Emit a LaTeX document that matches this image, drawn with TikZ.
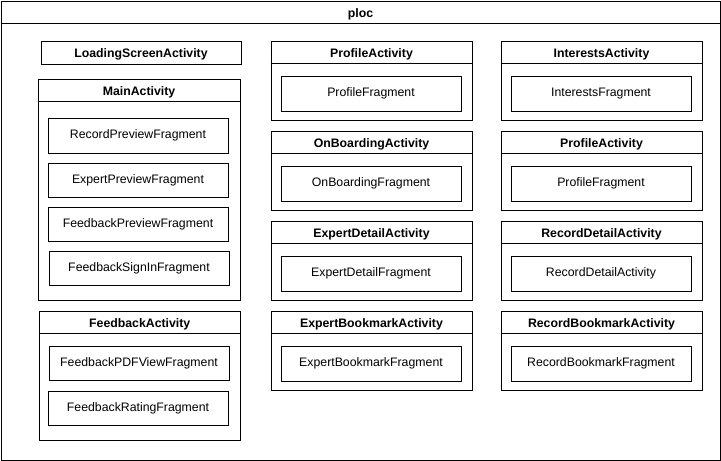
\documentclass[tikz,border=0pt]{standalone}
\usepackage{fontspec}
\setmainfont{Liberation Sans}
\begin{document}
\begin{tikzpicture}[x=1pt,y=-1pt,
  box/.style={draw=black,line width=1pt,inner sep=0pt,anchor=north west,fill=white},
  frag/.style={box,font=\fontsize{12.3}{14}\selectfont},
  hdr/.style={inner sep=0pt,anchor=base,font=\bfseries\fontsize{12.3}{14}\selectfont},
  hline/.style={draw=black,line width=1pt}]
\useasboundingbox (0,0) rectangle (721,461);
% outer frame
\node[box,minimum width=719pt,minimum height=459pt] (ploc) at (0.5,0.5) {};
\draw[hline] ([yshift=-23pt]ploc.north west) -- ([yshift=-23pt]ploc.north east);
\node[hdr] (ploct) at ([yshift=-16.5pt]ploc.north) {ploc};
% left column
\node[box,minimum width=200pt,minimum height=23pt] (lsa) at (40.5,40.5) {};
\node[hdr] (lsat) at ([yshift=-16.5pt]lsa.north) {LoadingScreenActivity};
\node[box,minimum width=202pt,minimum height=221.5pt] (ma) at (37.5,78.5) {};
\draw[hline] ([yshift=-23pt]ma.north west) -- ([yshift=-23pt]ma.north east);
\node[hdr] (mat) at ([yshift=-16.5pt]ma.north) {MainActivity};
\node[frag,minimum width=180pt,minimum height=35pt] (rpf) at (47.5,117.5) {RecordPreviewFragment};
\node[frag,minimum width=180pt,minimum height=34.5pt] (epf) at (47.5,162.5) {ExpertPreviewFragment};
\node[frag,minimum width=180pt,minimum height=34.5pt] (fpf) at (47.5,206.5) {FeedbackPreviewFragment};
\node[frag,minimum width=180pt,minimum height=34.5pt] (fsf) at (48.5,250.5) {FeedbackSignInFragment};
\node[box,minimum width=201.5pt,minimum height=129.5pt] (fa) at (38.5,310.5) {};
\draw[hline] ([yshift=-23pt]fa.north west) -- ([yshift=-23pt]fa.north east);
\node[hdr] (fat) at ([yshift=-16.5pt]fa.north) {FeedbackActivity};
\node[frag,minimum width=180pt,minimum height=34.5pt] (fvf) at (48.5,345.5) {FeedbackPDFViewFragment};
\node[frag,minimum width=180pt,minimum height=34.5pt] (frf) at (47.5,390.5) {FeedbackRatingFragment};
% middle and right columns
\foreach \nm/\x/\y/\act/\fr in {
  pa/270.5/40.5/ProfileActivity/ProfileFragment,
  oa/270.5/130.5/OnBoardingActivity/OnBoardingFragment,
  eda/270.5/220.5/ExpertDetailActivity/ExpertDetailFragment,
  eba/270.5/310.5/ExpertBookmarkActivity/ExpertBookmarkFragment,
  ia/500.5/40.5/InterestsActivity/InterestsFragment,
  pb/500.5/130.5/ProfileActivity/ProfileFragment,
  rda/500.5/220.5/RecordDetailActivity/RecordDetailActivity,
  rba/500.5/310.5/RecordBookmarkActivity/RecordBookmarkFragment}{
  \node[box,minimum width=201pt,minimum height=79.5pt] (\nm) at (\x,\y) {};
  \draw[hline] ([yshift=-23pt]\nm.north west) -- ([yshift=-23pt]\nm.north east);
  \node[hdr] (\nm t) at ([yshift=-16.5pt]\nm.north) {\act};
  \node[frag,minimum width=180pt,minimum height=35pt] (\nm f) at ([xshift=10pt,yshift=-35pt]\nm.north west) {\fr};
}
\end{tikzpicture}
\end{document}
